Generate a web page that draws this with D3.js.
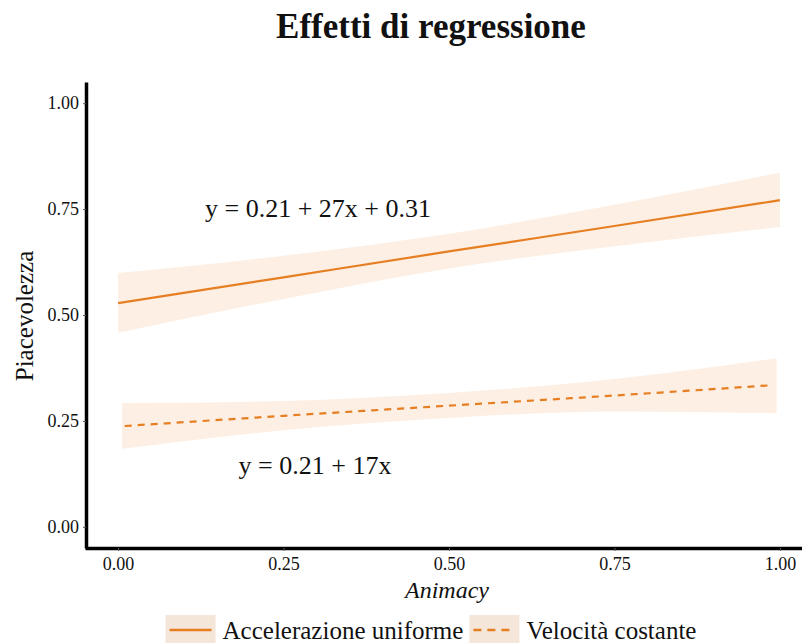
<!DOCTYPE html>
<html>
<head>
<meta charset="utf-8">
<script src="https://cdn.jsdelivr.net/npm/d3@7"></script>
<style>
  body { margin: 0; background: #fff; }
  text { font-family: "Liberation Serif", "DejaVu Serif", serif; fill: #111; }
</style>
</head>
<body>
<div id="chart"></div>
<script>
// data
const solidX = [0, 0.25, 0.5, 0.75, 1];
const solidFit = [0.528, 0.589, 0.650, 0.710, 0.771];
const solidLo = [0.458, 0.538, 0.610, 0.662, 0.708];
const solidHi = [0.599, 0.640, 0.692, 0.760, 0.836];

const dashX = [0.006, 0.25, 0.5, 0.75, 0.995];
const dashFit = [0.238, 0.262, 0.286, 0.310, 0.334];
const dashLo = [0.184, 0.228, 0.257, 0.272, 0.268];
const dashHi = [0.292, 0.297, 0.316, 0.349, 0.398];

const xTicks = [0, 0.25, 0.5, 0.75, 1];
const yTicks = [0, 0.25, 0.5, 0.75, 1];
const seriesNames = ["Accelerazione uniforme", "Velocità costante"];
const equations = ["y = 0.21 + 27x + 0.31", "y = 0.21 + 17x"];

const W = 802, H = 643;
const lineColor = "#e67e22";
const bandColor = "rgba(240,150,70,0.15)";
const keyBg = "#f4e6d8";

const svg = d3.select("#chart").append("svg")
  .attr("width", W).attr("height", H);

// scales
const x = d3.scaleLinear().domain([-0.05, 1.05]).range([85, 813]);
const y = d3.scaleLinear().domain([-0.05, 1.05]).range([548, 82]);

// title
svg.append("text")
  .attr("x", 431).attr("y", 38)
  .attr("text-anchor", "middle")
  .style("font-size", "35px").style("font-weight", "bold")
  .text("Effetti di regressione");

// bands + lines
function pts(xs, ys) { return xs.map((d, i) => [d, ys[i]]); }

const area = d3.area()
  .x(d => x(d[0])).y0(d => y(d[1])).y1(d => y(d[2]))
  .curve(d3.curveMonotoneX);
const line = d3.line()
  .x(d => x(d[0])).y(d => y(d[1]))
  .curve(d3.curveMonotoneX);

const series = [
  { xs: solidX, fit: solidFit, lo: solidLo, hi: solidHi, dash: null },
  { xs: dashX, fit: dashFit, lo: dashLo, hi: dashHi, dash: "7,6" }
];

series.forEach(s => {
  svg.append("path")
    .attr("d", area(s.xs.map((d, i) => [d, s.lo[i], s.hi[i]])))
    .attr("fill", bandColor);
});
series.forEach((s, k) => {
  // dashed fit is drawn slightly inside the band
  let xs = s.xs.slice();
  if (k === 1) { xs[xs.length - 1] = 0.985; xs[0] = 0.01; }
  svg.append("path")
    .attr("d", line(pts(xs, s.fit)))
    .attr("fill", "none")
    .attr("stroke", lineColor)
    .attr("stroke-width", 2.2)
    .attr("stroke-dasharray", s.dash);
});

// equations
svg.append("text")
  .attr("x", 318).attr("y", 217)
  .attr("text-anchor", "middle")
  .style("font-size", "26px")
  .text(equations[0]);
svg.append("text")
  .attr("x", 315).attr("y", 474)
  .attr("text-anchor", "middle")
  .style("font-size", "26px")
  .text(equations[1]);

// axes
const xAxis = svg.append("g")
  .attr("transform", "translate(0,548)")
  .call(d3.axisBottom(x).tickValues(xTicks).tickFormat(d3.format(".2f")).tickSize(3).tickSizeOuter(0));
const yAxis = svg.append("g")
  .attr("transform", "translate(86,0)")
  .call(d3.axisLeft(y).tickValues(yTicks).tickFormat(d3.format(".2f")).tickSize(3).tickSizeOuter(0));

[xAxis, yAxis].forEach(g => {
  g.attr("font-family", null).attr("font-size", null);
  g.select(".domain").attr("stroke", "#000").attr("stroke-width", 3.5);
  g.selectAll(".tick line").attr("stroke", "#555");
  g.selectAll(".tick text").style("font-size", "18px").attr("fill", "#222");
});
xAxis.selectAll(".tick text").attr("dy", "0.9em");
yAxis.selectAll(".tick text").attr("dx", "-0.05em");

// axis titles
svg.append("text")
  .attr("x", 447).attr("y", 598)
  .attr("text-anchor", "middle")
  .style("font-size", "24px").style("font-style", "italic")
  .text("Animacy");
svg.append("text")
  .attr("transform", "translate(33,316)rotate(-90)")
  .attr("text-anchor", "middle")
  .style("font-size", "25px")
  .text("Piacevolezza");

// legend
const legend = svg.append("g");
let lx = 0;
seriesNames.forEach((name, i) => {
  const g = legend.append("g").attr("transform", "translate(" + lx + ",0)");
  g.append("rect").attr("x", 0).attr("y", 615).attr("width", 50).attr("height", 32).attr("fill", keyBg);
  g.append("line")
    .attr("x1", 4).attr("x2", 46).attr("y1", 630).attr("y2", 630)
    .attr("stroke", lineColor).attr("stroke-width", 2.5)
    .attr("stroke-dasharray", i === 1 ? "8,6" : null);
  const t = g.append("text")
    .attr("x", 57).attr("y", 639)
    .style("font-size", "25px")
    .text(name);
  lx += 57 + t.node().getComputedTextLength() + 6;
});
const lw = lx - 6;
legend.attr("transform", "translate(" + (431 - lw / 2) + ",0)");
</script>
</body>
</html>
